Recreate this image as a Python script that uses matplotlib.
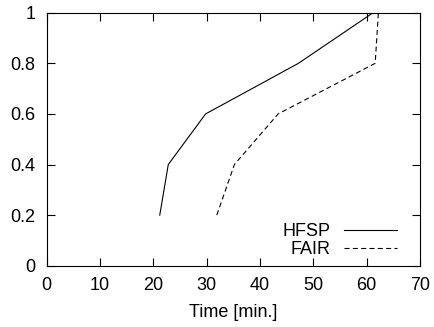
import matplotlib
matplotlib.use('Agg')
import matplotlib.pyplot as plt

plt.rcParams['font.family'] = ['Liberation Sans', 'DejaVu Sans']

# data
frac = [0.2, 0.4, 0.6, 0.8, 1.0]
hfsp_time = [21.2, 22.8, 29.8, 47.2, 61.2]
fair_time = [31.9, 35.2, 43.4, 61.6, 62.2]

x_ticks = [0, 10, 20, 30, 40, 50, 60, 70]
y_ticks = [0, 0.2, 0.4, 0.6, 0.8, 1]
y_tick_labels = ['0', '0.2', '0.4', '0.6', '0.8', '1']

fig = plt.figure(figsize=(4.34, 3.27), dpi=100)
ax = fig.add_axes([0.1076, 0.1875, 0.8601, 0.7735])

ax.plot(hfsp_time, frac, color='black', linewidth=0.8, label='HFSP')
ax.plot(fair_time, frac, color='black', linewidth=0.8, linestyle=(0, (4.5, 3)), label='FAIR')

ax.set_xlim(0, 70)
ax.set_ylim(0, 1)
ax.set_xticks(x_ticks)
ax.set_yticks(y_ticks)
ax.set_yticklabels(y_tick_labels)
ax.tick_params(direction='in', length=5.5, width=0.8, top=True, right=True,
               labelsize=13, pad=8)
for s in ax.spines.values():
    s.set_linewidth(0.8)

ax.set_xlabel('Time [min.]', fontsize=13, labelpad=7.5)

ax.legend(loc='lower right', bbox_to_anchor=(0.962, -0.005), frameon=False,
          markerfirst=False, fontsize=13, handlelength=2.9, handletextpad=0.75,
          labelspacing=0.05, borderpad=0.2, borderaxespad=0.3)

fig.savefig('out.png', dpi=100)
